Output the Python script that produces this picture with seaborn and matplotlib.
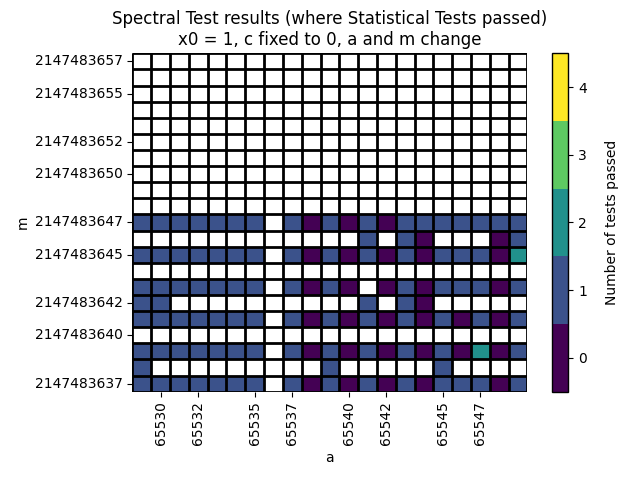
import numpy as np
import pandas as pd
import matplotlib
matplotlib.use("Agg")
import matplotlib.pyplot as plt
import seaborn as sns

# ==========================================
# DATA
# ==========================================
N = np.nan

a_values = list(range(65529, 65550))            # 21 columns
m_values = list(range(2147483657, 2147483636, -1))  # 21 rows, top to bottom

# number of tests passed per (m, a); NaN = statistical tests failed
row_full_a = [1, 1, 1, 1, 1, 1, 1, N, 1, 0, 1, 0, 1, 0, 1, 1, 1, 1, 1, 1, 1]
row_646 = [N, N, N, N, N, N, N, N, N, N, N, N, 1, N, 1, 0, N, N, N, 0, 1]
row_645 = [1, 1, 1, 1, 1, 1, 1, N, 1, 0, 1, 0, 1, 0, 1, 0, 1, 1, 1, 0, 2]
row_643 = [1, 1, 1, 1, 1, 1, 1, N, 1, 0, 1, 0, N, 0, 1, 0, 1, 1, 1, 0, 1]
row_642 = [1, 1, N, N, N, N, N, N, N, N, N, N, 1, N, 1, 0, N, N, N, N, N]
row_641 = [1, 1, 1, 1, 1, 1, 1, N, 1, 0, 1, 0, 1, 0, 1, 0, 1, 0, 1, 0, 1]
row_639 = [1, 1, 1, 1, 1, 1, 1, N, 1, 0, 1, 0, 1, 0, 1, 0, 1, 0, 2, 0, 1]
row_638 = [1, N, N, N, N, N, N, N, N, N, 1, N, N, N, N, N, 1, N, N, N, N]
row_637 = [1, 1, 1, 1, 1, 1, 1, N, 1, 0, 1, 0, 1, 0, 1, 0, 1, 1, 1, 0, 1]
row_empty = [N] * 21

grid_rows = [row_empty] * 10 + [
    row_full_a, row_646, row_645, row_empty, row_643, row_642,
    row_641, row_empty, row_639, row_638, row_637,
]

ytick_idx = [0, 2, 5, 7, 10, 12, 15, 17, 20]
xtick_idx = [1, 3, 6, 8, 11, 13, 16, 18]

# ==========================================
# PLOT
# ==========================================
df = pd.DataFrame(grid_rows, index=m_values, columns=a_values)

fig = plt.figure(figsize=(6.4, 4.8), dpi=100)
ax = fig.add_axes([0.207, 0.184, 0.617, 0.705])
cax = fig.add_axes([0.862, 0.184, 0.026, 0.705])

cmap = plt.get_cmap("viridis", 5)
sns.heatmap(df, ax=ax, cbar_ax=cax, cmap=cmap, vmin=-0.5, vmax=4.5,
            mask=df.isna(), linewidths=0,
            cbar_kws={"ticks": [0, 1, 2, 3, 4]})

# grid lines around every cell, coloured or empty
n_rows, n_cols = df.shape
ax.hlines(np.arange(n_rows + 1), 0, n_cols, colors="black", linewidth=2.0)
ax.vlines(np.arange(n_cols + 1), 0, n_rows, colors="black", linewidth=2.0)

ax.set_yticks([i + 0.5 for i in ytick_idx])
ax.set_yticklabels([str(m_values[i]) for i in ytick_idx], rotation=0)
ax.set_xticks([i + 0.5 for i in xtick_idx])
ax.set_xticklabels([str(a_values[i]) for i in xtick_idx], rotation=90)
ax.tick_params(length=3.5)

ax.set_xlabel("a")
ax.set_ylabel("m")
ax.set_title("Spectral Test results (where Statistical Tests passed)\n"
             "x0 = 1, c fixed to 0, a and m change")

cbar = ax.collections[0].colorbar
cbar.set_label("Number of tests passed", labelpad=13)
cbar.outline.set_visible(True)
cbar.outline.set_edgecolor("black")
cbar.outline.set_linewidth(1.0)

fig.savefig("out.png", dpi=100)
